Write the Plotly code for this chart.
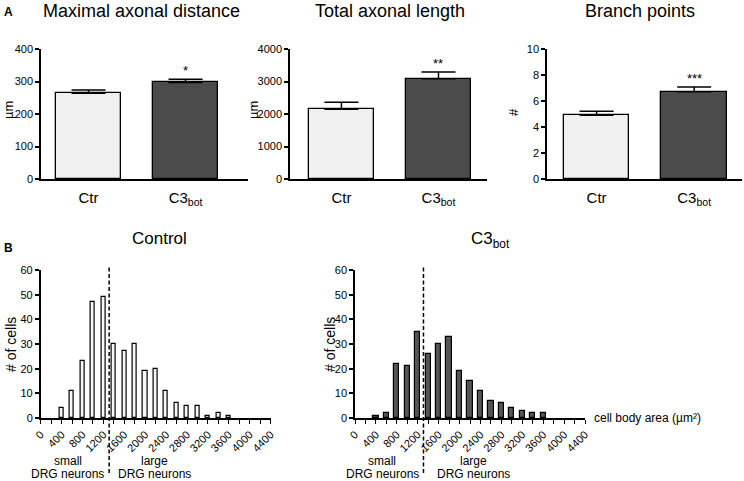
import plotly.graph_objects as go

W, H = 744, 481


def px(x):
    return x / W


def py(y):
    return 1 - y / H


# ---------------- data ----------------
groups = ["Ctr", "C3<sub>bot</sub>"]
max_dist = [264, 297]
max_dist_err = [10, 10]
total_len = [2150, 3085]
total_len_err = [215, 205]
branch_pts = [4.91, 6.72]
branch_pts_err = [0.31, 0.36]
signif = ["*", "**", "***"]

area_bins = list(range(400, 3601, 200))
ctrl_counts = [4, 11, 23, 47, 49, 30, 27, 30, 19, 20, 11, 6, 5, 5, 1, 2, 1]
c3_counts = [1, 2, 22, 21, 35, 26, 30, 33, 19, 15, 11, 7, 6, 4, 3, 2, 2]
area_ticks = list(range(0, 4401, 400))
divider = 1310

FONT = "Liberation Sans, Arial, sans-serif"
bar_colors = ["#f0f0f0", "#4b4b4b"]

fig = go.Figure()

panelA = [
    (max_dist, max_dist_err, "x", "y"),
    (total_len, total_len_err, "x2", "y2"),
    (branch_pts, branch_pts_err, "x3", "y3"),
]
for vals, errs, xa, ya in panelA:
    fig.add_trace(go.Bar(
        x=[0, 1], y=vals, width=0.67,
        marker=dict(color=bar_colors, line=dict(color="black", width=1.3)),
        error_y=dict(type="data", array=errs, arrayminus=[0, 0], symmetric=False,
                     width=17, thickness=1.5, color="black"),
        xaxis=xa, yaxis=ya, showlegend=False, hoverinfo="skip",
    ))

fig.add_trace(go.Bar(
    x=area_bins, y=ctrl_counts, width=80,
    marker=dict(color="#f7f7f7", line=dict(color="black", width=1.2)),
    xaxis="x4", yaxis="y4", showlegend=False, hoverinfo="skip",
))
fig.add_trace(go.Bar(
    x=area_bins, y=c3_counts, width=100,
    marker=dict(color="#555555", line=dict(color="black", width=1.2)),
    xaxis="x5", yaxis="y5", showlegend=False, hoverinfo="skip",
))

common = dict(showgrid=False, zeroline=False, showline=True, linecolor="black",
              linewidth=1.5, fixedrange=True, automargin=False)
yA = [py(179), py(49)]
yB = [py(418), py(270)]

layout_axes = {}
xa_specs = [
    ("xaxis", [px(41), px(248)], [-0.49, 1.644], "y"),
    ("xaxis2", [px(290), px(487)], [-0.53, 1.50], "y2"),
    ("xaxis3", [px(547), px(742)], [-0.508, 1.49], "y3"),
]
for name, dom, rng, anc in xa_specs:
    layout_axes[name] = dict(common, domain=dom, range=rng, anchor=anc,
                             tickvals=[0, 1], ticktext=groups, ticks="",
                             ticklabelstandoff=4,
                             tickfont=dict(size=15, color="black"))
ya_specs = [
    ("yaxis", [0, 400], 100, "x"),
    ("yaxis2", [0, 4000], 1000, "x2"),
    ("yaxis3", [0, 10], 2, "x3"),
]
for name, rng, dt, anc in ya_specs:
    layout_axes[name] = dict(common, domain=yA, range=rng, dtick=dt, anchor=anc,
                             ticks="outside", ticklen=4, tickwidth=1.5,
                             tickcolor="black",
                             tickfont=dict(size=11, color="black"))

for name, dom, anc in [("xaxis4", [px(40.7), px(270.6)], "y4"),
                       ("xaxis5", [px(355), px(585)], "y5")]:
    layout_axes[name] = dict(common, domain=dom, range=[0, 4400], anchor=anc,
                             tickvals=area_ticks,
                             ticktext=[str(t) for t in area_ticks],
                             ticks="outside", ticklen=4, tickwidth=1.3,
                             tickcolor="black", tickangle=-45,
                             tickfont=dict(size=11, color="black"),
                             minor=dict(dtick=200, tick0=0, ticks="outside",
                                        ticklen=4, tickwidth=1.3,
                                        tickcolor="black"))
for name, anc in [("yaxis4", "x4"), ("yaxis5", "x5")]:
    layout_axes[name] = dict(common, domain=yB, range=[0, 60], dtick=10,
                             anchor=anc, ticks="outside", ticklen=4,
                             tickwidth=1.5, tickcolor="black",
                             tickfont=dict(size=11, color="black"))

annotations = []


def ann(text, x, y, size, **kw):
    d = dict(text=text, x=px(x), y=py(y), xref="paper", yref="paper",
             showarrow=False, font=dict(size=size, color="black", family=FONT),
             xanchor="center", yanchor="middle", borderpad=0)
    d.update(kw)
    annotations.append(d)


ann("<b>A</b>", 3, 12, 12, xanchor="left")
ann("<b>B</b>", 3, 248, 12, xanchor="left")
ann("Maximal axonal distance", 141, 11, 18)
ann("Total axonal length", 390, 11, 18)
ann("Branch points", 640, 11, 18)
ann("Control", 159, 238, 17)
ann("C3<sub>bot</sub>", 490, 240, 17)
ann("µm", 8, 110, 13, textangle=-90)
ann("µm", 253, 110, 13, textangle=-90)
ann("#", 513, 112, 13, textangle=-90)
ann("# of cells", 11, 345, 14, textangle=-90)
ann("# of cells", 330, 345, 14, textangle=-90)
ann("cell body area (µm²)", 593, 418, 12, xanchor="left")

# significance stars above the C3bot bars
for (vals, errs, xa, ya), s in zip(panelA, signif):
    annotations.append(dict(text=s, x=1, y=vals[1] + errs[1], xref=xa, yref=ya,
                            showarrow=False, yanchor="bottom", yshift=-1,
                            font=dict(size=13, color="black", family=FONT)))

# small / large DRG neuron labels
for xa, xs, xl in [("x4", 520, 2170), ("x5", 520, 2270)]:
    for txt, xv, yv in [("small", xs, 461), ("DRG neurons", xs, 474),
                        ("large", xl, 461), ("DRG neurons", xl, 474)]:
        annotations.append(dict(text=txt, x=xv, y=py(yv), xref=xa, yref="paper",
                                showarrow=False, xanchor="center", yanchor="middle",
                                borderpad=0,
                                font=dict(size=12, color="black", family=FONT)))

shapes = []
for xa in ["x4", "x5"]:
    shapes.append(dict(type="line", xref=xa, yref="paper", x0=divider, x1=divider,
                       y0=py(473), y1=py(266),
                       line=dict(color="black", width=1.5, dash="4px,2.5px")))

fig.update_layout(
    width=W, height=H, margin=dict(l=0, r=0, t=0, b=0, pad=0, autoexpand=False),
    paper_bgcolor="white", plot_bgcolor="white",
    font=dict(family=FONT, color="black"),
    annotations=annotations, shapes=shapes, bargap=0,
    **layout_axes,
)

fig.write_html(
    "out.html",
    config={"displayModeBar": False},
    post_script="document.body.style.margin='0';document.body.style.overflow='hidden';",
)
